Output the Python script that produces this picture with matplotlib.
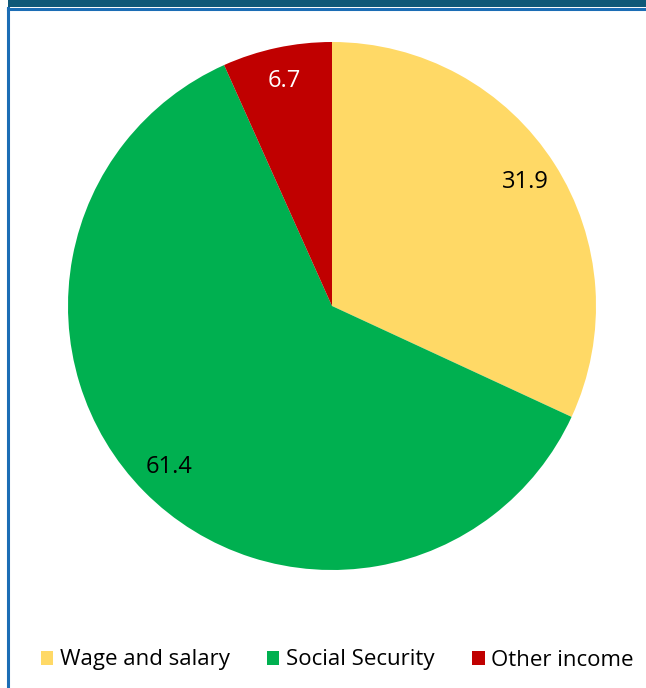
import matplotlib
matplotlib.use("Agg")
import matplotlib.pyplot as plt
from matplotlib.patches import Patch, Rectangle
from matplotlib.lines import Line2D

plt.rcParams['font.family'] = ['Open Sans', 'DejaVu Sans']

# income sources, percent of total
categories = ["Wage and salary", "Social Security", "Other income"]
shares = [31.9, 61.4, 6.7]
colors = ["#FFD966", "#00B050", "#C00000"]
label_colors = ["black", "black", "white"]

W, H = 646, 688
fig = plt.figure(figsize=(W / 100, H / 100), dpi=100)

# header strip and side rule
fig.add_artist(Rectangle((8 / W, 1 - 7 / H), 1, 7 / H, transform=fig.transFigure,
                         facecolor="#0F5878", edgecolor="none"))
fig.add_artist(Line2D([7.5 / W, 1], [1 - 8.5 / H, 1 - 8.5 / H], transform=fig.transFigure,
                      color="#1B6DB5", linewidth=2.2))
fig.add_artist(Line2D([7.5 / W, 7.5 / W], [0, 1 - 7.5 / H], transform=fig.transFigure,
                      color="#1B6DB5", linewidth=2.2))

cx, cy, r = 332, 306, 264
ax = fig.add_axes([(cx - r) / W, 1 - (cy + r) / H, 2 * r / W, 2 * r / H])
wedges, texts, autotexts = ax.pie(
    shares, colors=colors, startangle=90, counterclock=False,
    autopct=lambda p: f"{p:.1f}", pctdistance=0.87,
    textprops=dict(fontsize=17), wedgeprops=dict(linewidth=0))
for t, c in zip(autotexts, label_colors):
    t.set_color(c)
ax.set_xlim(-1, 1)
ax.set_ylim(-1, 1)
ax.axis("off")

handles = [Patch(facecolor=c, edgecolor="none") for c in colors]
fig.legend(handles, categories, loc="center", bbox_to_anchor=(0.522, 28 / H),
           ncol=3, frameon=False, fontsize=16, handlelength=0.55, handleheight=0.6,
           handletextpad=0.3, columnspacing=1.7, borderaxespad=0)

fig.savefig("out.png", dpi=100)
